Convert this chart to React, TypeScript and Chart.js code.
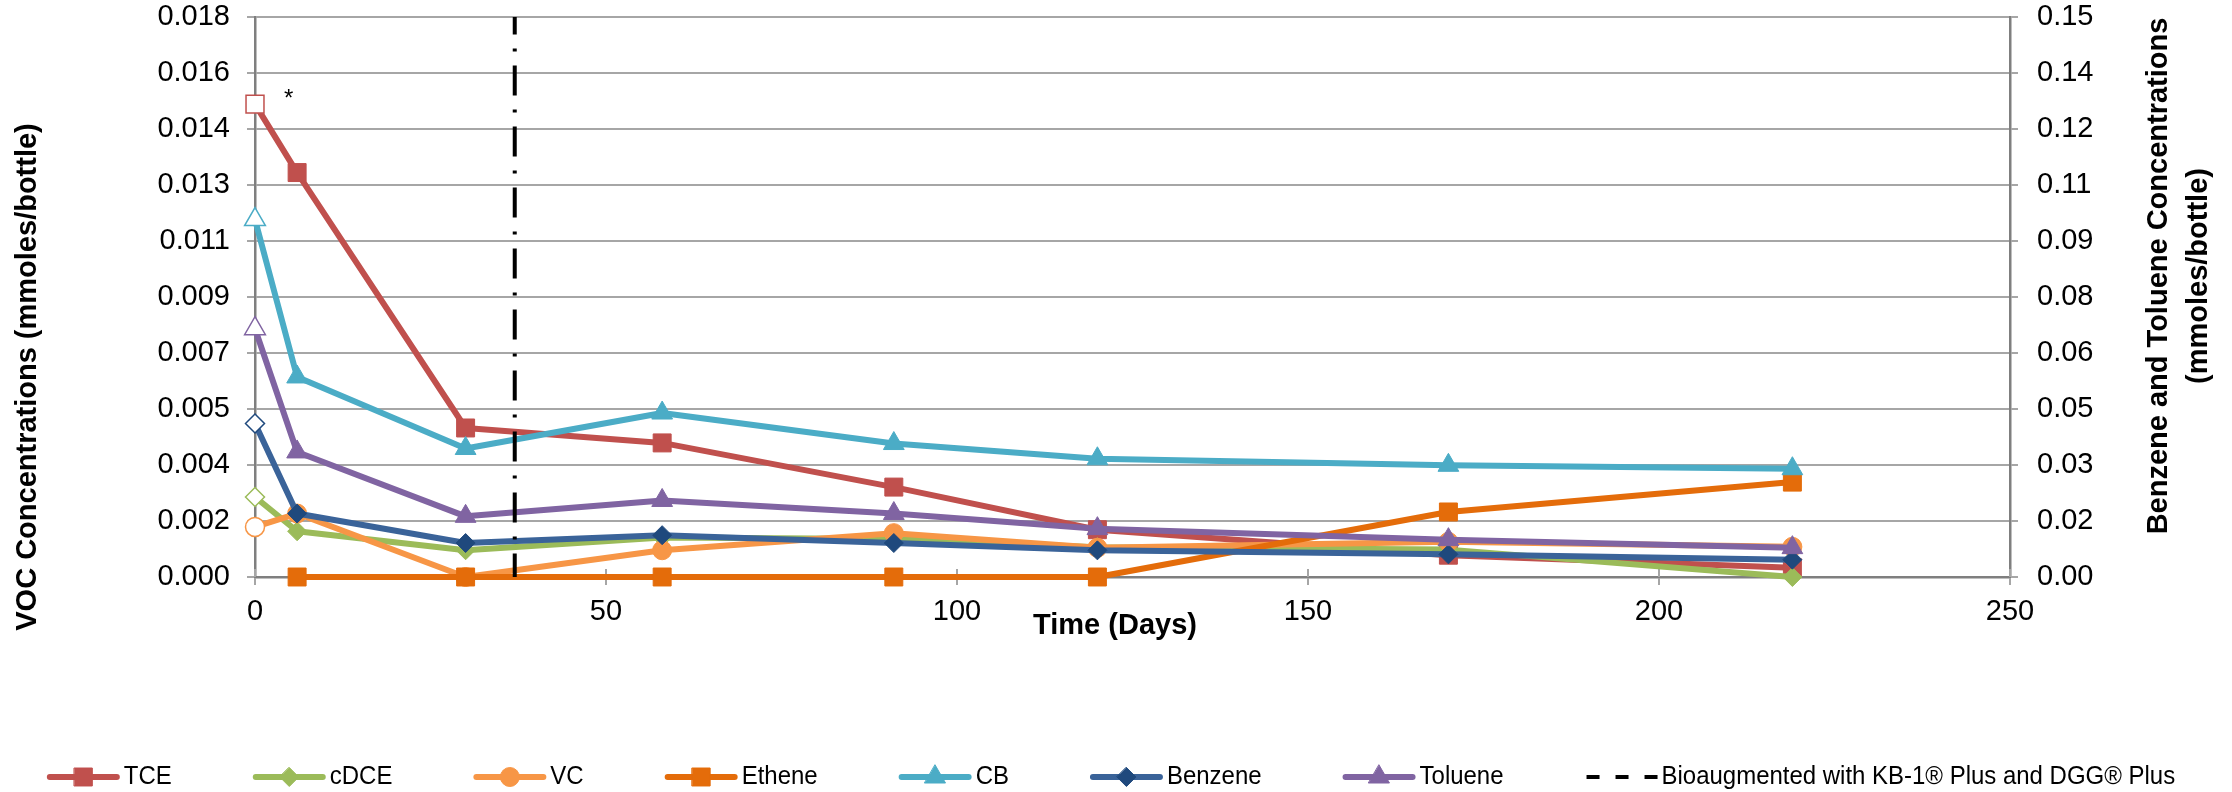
import React, { useEffect, useRef } from 'react';
import { Chart, registerables } from 'chart.js';

Chart.register(...registerables);

// ---------------- DATA ----------------
const days = [0, 6, 30, 58, 91, 120, 170, 219];

// left axis (VOC, mmoles/bottle)
const tceValues = [0.0152, 0.0130, 0.00479, 0.00431, 0.00289, 0.00152, 0.0007, 0.0003];
const cdceValues = [0.00257, 0.00147, 0.00086, 0.00127, 0.00122, 0.00096, 0.00088, 0.0];
const vcValues = [0.00161, 0.00204, 0.0, 0.00086, 0.00141, 0.00094, 0.00113, 0.00097];
const etheneValues = [null, 0.0, 0.0, 0.0, 0.0, 0.0, 0.00209, 0.00305];
const cbValues = [0.01149, 0.00643, 0.00413, 0.00527, 0.00429, 0.0038, 0.00359, 0.00348];
// right axis (Benzene & Toluene, mmoles/bottle)
const benzeneValues = [0.0411, 0.0170, 0.0091, 0.0112, 0.0091, 0.00714, 0.00607, 0.00464];
const tolueneValues = [0.0665, 0.0335, 0.01625, 0.0205, 0.0170, 0.01295, 0.0100, 0.00786];

const bioaugmentDay = 37;
const bioaugmentLabel = 'Bioaugmented with KB-1\u00AE Plus and DGG\u00AE Plus';

const xTickValues = [0, 50, 100, 150, 200, 250];
const xTickLabels = ['0', '50', '100', '150', '200', '250'];
const leftMax = 0.018;
const leftTickLabels = ['0.000', '0.002', '0.004', '0.005', '0.007', '0.009', '0.011', '0.013', '0.014', '0.016', '0.018'];
const rightMax = 0.15;
const rightTickLabels = ['0.00', '0.02', '0.03', '0.05', '0.06', '0.08', '0.09', '0.11', '0.12', '0.14', '0.15'];

const xTitle = 'Time (Days)';
const leftTitle = 'VOC Concentrations (mmoles/bottle)';
const rightTitleLines = ['Benzene and Toluene Concentrations', '(mmoles/bottle)'];
const asteriskText = '*';
const asteriskDay = 4.8;
const asteriskValue = 0.0156;

// ---------------- STYLE ----------------
const FONT = "'Liberation Sans', Arial, sans-serif";
const GRID = '#A6A6A6';
const AXIS = '#7F7F7F';

type Series = {
  label: string;
  values: (number | null)[];
  line: string;
  marker: string;
  style: 'rect' | 'rectRot' | 'circle' | 'triangle';
  radius: number;
  axis: 'y' | 'y1';
  openFirst: boolean;
};

const series: Series[] = [
  { label: 'TCE', values: tceValues, line: '#C0504D', marker: '#C0504D', style: 'rect', radius: 12.7, axis: 'y', openFirst: true },
  { label: 'cDCE', values: cdceValues, line: '#9BBB59', marker: '#9BBB59', style: 'rectRot', radius: 9.5, axis: 'y', openFirst: true },
  { label: 'VC', values: vcValues, line: '#F79646', marker: '#F79646', style: 'circle', radius: 9.5, axis: 'y', openFirst: true },
  { label: 'Ethene', values: etheneValues, line: '#E46C0A', marker: '#E46C0A', style: 'rect', radius: 12.7, axis: 'y', openFirst: false },
  { label: 'CB', values: cbValues, line: '#4BACC6', marker: '#4BACC6', style: 'triangle', radius: 12, axis: 'y', openFirst: true },
  { label: 'Benzene', values: benzeneValues, line: '#3A6399', marker: '#1F497D', style: 'rectRot', radius: 9.5, axis: 'y1', openFirst: true },
  { label: 'Toluene', values: tolueneValues, line: '#8064A2', marker: '#8064A2', style: 'triangle', radius: 12, axis: 'y1', openFirst: true },
];

function drawMarker(ctx: CanvasRenderingContext2D, style: string, cx: number, cy: number, r: number, fill: string, stroke: string, bw: number) {
  ctx.beginPath();
  if (style === 'rect') {
    const s = r * Math.SQRT1_2;
    ctx.rect(cx - s, cy - s, 2 * s, 2 * s);
  } else if (style === 'rectRot') {
    ctx.moveTo(cx, cy - r);
    ctx.lineTo(cx + r, cy);
    ctx.lineTo(cx, cy + r);
    ctx.lineTo(cx - r, cy);
    ctx.closePath();
  } else if (style === 'circle') {
    ctx.arc(cx, cy, r, 0, Math.PI * 2);
  } else {
    ctx.moveTo(cx, cy - r);
    ctx.lineTo(cx + 0.866 * r, cy + 0.5 * r);
    ctx.lineTo(cx - 0.866 * r, cy + 0.5 * r);
    ctx.closePath();
  }
  ctx.fillStyle = fill;
  ctx.fill();
  ctx.lineWidth = bw;
  ctx.strokeStyle = stroke;
  ctx.stroke();
}

const decorPlugin = {
  id: 'decor',
  beforeDatasetsDraw(chart: any) {
    // inner half of the cross-style tick marks on the time axis
    const ctx: CanvasRenderingContext2D = chart.ctx;
    const xs = chart.scales.x;
    const bottom = chart.chartArea.bottom;
    ctx.save();
    ctx.strokeStyle = GRID;
    ctx.lineWidth = 2;
    xTickValues.forEach((v) => {
      const px = xs.getPixelForValue(v);
      ctx.beginPath();
      ctx.moveTo(px, bottom - 8);
      ctx.lineTo(px, bottom);
      ctx.stroke();
    });
    ctx.restore();
  },
  afterDraw(chart: any) {
    const ctx: CanvasRenderingContext2D = chart.ctx;
    const xs = chart.scales.x;
    const ys = chart.scales.y;
    ctx.save();
    ctx.fillStyle = '#000';

    // asterisk
    ctx.font = `24px ${FONT}`;
    ctx.textAlign = 'center';
    ctx.textBaseline = 'alphabetic';
    ctx.fillText(asteriskText, xs.getPixelForValue(asteriskDay), ys.getPixelForValue(asteriskValue) + 14);

    // axis titles
    ctx.font = `bold 29px ${FONT}`;
    ctx.textBaseline = 'middle';
    ctx.textAlign = 'center';
    ctx.fillText(xTitle, 1115, 626);

    ctx.save();
    ctx.translate(28, 377);
    ctx.rotate(-Math.PI / 2);
    ctx.fillText(leftTitle, 0, 0);
    ctx.restore();

    ctx.save();
    ctx.translate(2159, 276);
    ctx.rotate(-Math.PI / 2);
    ctx.fillText(rightTitleLines[0], 0, 0);
    ctx.fillText(rightTitleLines[1], 0, 40);
    ctx.restore();

    // legend (line + marker icons, slightly condensed text)
    const legendY = 777;
    const iconW = 73;
    const textGap = 4;
    const itemGap = 81;
    const squeeze = 0.94;
    ctx.font = `25.5px ${FONT}`;
    const labels = [...series.map((s) => s.label), bioaugmentLabel];
    const widths = labels.map((t) => ctx.measureText(t).width * squeeze);
    const total = widths.reduce((a, w) => a + iconW + textGap + w, 0) + itemGap * (labels.length - 1);
    let x0 = 1111 - total / 2;
    labels.forEach((label, i) => {
      if (i < series.length) {
        const s = series[i];
        ctx.beginPath();
        ctx.lineCap = 'round';
        ctx.lineWidth = 6;
        ctx.strokeStyle = s.line;
        ctx.moveTo(x0 + 3, legendY);
        ctx.lineTo(x0 + iconW - 3, legendY);
        ctx.stroke();
        drawMarker(ctx, s.style, x0 + iconW / 2, legendY, s.radius, s.marker, s.marker, 1);
      } else {
        ctx.beginPath();
        ctx.lineCap = 'butt';
        ctx.lineWidth = 4;
        ctx.strokeStyle = '#000';
        ctx.setLineDash([13, 16]);
        ctx.moveTo(x0 + 2, legendY);
        ctx.lineTo(x0 + iconW, legendY);
        ctx.stroke();
        ctx.setLineDash([]);
      }
      ctx.save();
      ctx.translate(x0 + iconW + textGap, legendY);
      ctx.scale(squeeze, 1);
      ctx.fillStyle = '#000';
      ctx.textAlign = 'left';
      ctx.textBaseline = 'middle';
      ctx.fillText(label, 0, 0);
      ctx.restore();
      x0 += iconW + textGap + widths[i] + itemGap;
    });
    ctx.restore();
  },
};

export default function App() {
  const canvasRef = useRef<HTMLCanvasElement | null>(null);

  useEffect(() => {
    if (!canvasRef.current) return;
    Chart.defaults.font.family = FONT;

    const datasets: any[] = series.map((s, si) => ({
      label: s.label,
      data: days.map((d, i) => ({ x: d, y: s.values[i] })),
      yAxisID: s.axis,
      borderColor: s.line,
      borderWidth: 6,
      borderJoinStyle: 'round',
      borderCapStyle: 'round',
      tension: 0,
      pointStyle: s.style,
      pointRadius: s.radius,
      pointBackgroundColor: days.map((_, i) => (i === 0 && s.openFirst ? '#FFFFFF' : s.marker)),
      pointBorderColor: s.marker,
      pointBorderWidth: days.map((_, i) => (i === 0 && s.openFirst ? 1.5 : 1)),
      clip: false,
      order: series.length - si,
      spanGaps: false,
    }));

    datasets.push({
      label: bioaugmentLabel,
      data: [
        { x: bioaugmentDay, y: leftMax },
        { x: bioaugmentDay, y: 0 },
      ],
      yAxisID: 'y',
      borderColor: '#000000',
      borderWidth: 4,
      borderDash: [30, 14, 3, 14],
      borderDashOffset: 12.5,
      borderCapStyle: 'butt',
      pointRadius: 0,
      clip: false,
      order: 0,
    });

    const chart = new Chart(canvasRef.current, {
      type: 'line',
      data: { datasets },
      options: {
        animation: false,
        responsive: true,
        maintainAspectRatio: false,
        events: [],
        layout: { padding: { top: 17, left: 0, right: 0, bottom: 0 } },
        plugins: {
          legend: { display: false },
          tooltip: { enabled: false },
          title: { display: false },
        },
        scales: {
          x: {
            type: 'linear',
            min: 0,
            max: 250,
            afterBuildTicks: (s: any) => {
              s.ticks = xTickValues.map((v) => ({ value: v }));
            },
            ticks: {
              font: { size: 29 },
              color: '#000',
              padding: 10,
              maxRotation: 0,
              autoSkip: false,
              callback: (_v: any, i: number) => xTickLabels[i],
            },
            grid: { drawOnChartArea: false, tickLength: 8, color: GRID, lineWidth: 2 },
            border: { color: AXIS, width: 2.5 },
            afterFit: (s: any) => {
              s.height = 215;
            },
          },
          y: {
            position: 'left',
            min: 0,
            max: leftMax,
            afterBuildTicks: (s: any) => {
              s.ticks = leftTickLabels.map((_, i) => ({ value: (leftMax * i) / 10 }));
            },
            ticks: {
              font: { size: 29 },
              color: '#000',
              padding: 17,
              autoSkip: false,
              callback: (_v: any, i: number) => leftTickLabels[i],
            },
            grid: { color: GRID, lineWidth: 2, tickLength: 8 },
            border: { color: AXIS, width: 2.5 },
            afterFit: (s: any) => {
              s.width = 255;
              s.paddingTop = 10;
              s.paddingBottom = 10;
            },
          },
          y1: {
            position: 'right',
            min: 0,
            max: rightMax,
            afterBuildTicks: (s: any) => {
              s.ticks = rightTickLabels.map((_, i) => ({ value: (rightMax * i) / 10 }));
            },
            ticks: {
              font: { size: 29 },
              color: '#000',
              padding: 19,
              autoSkip: false,
              callback: (_v: any, i: number) => rightTickLabels[i],
            },
            grid: { drawOnChartArea: false, color: GRID, lineWidth: 2, tickLength: 8 },
            border: { color: AXIS, width: 2.5 },
            afterFit: (s: any) => {
              s.width = 222;
              s.paddingTop = 10;
              s.paddingBottom = 10;
            },
          },
        },
      } as any,
      plugins: [decorPlugin],
    });

    return () => chart.destroy();
  }, []);

  return (
    <div style={{ position: 'fixed', left: 0, top: 0, width: 2232, height: 792, background: '#fff' }}>
      <canvas ref={canvasRef} />
    </div>
  );
}
